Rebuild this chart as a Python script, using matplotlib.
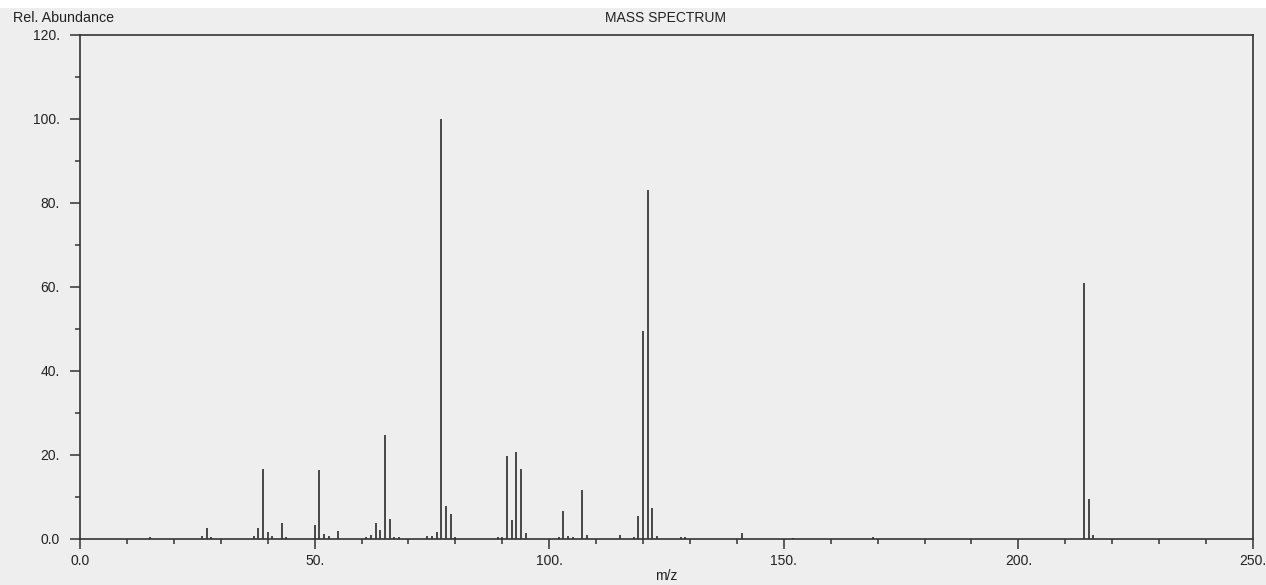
import matplotlib
matplotlib.use("Agg")
import matplotlib.pyplot as plt
from matplotlib.ticker import MultipleLocator, FuncFormatter

mz = [15, 26, 27, 28, 37, 38, 39, 40, 41, 43, 44,
      50, 51, 52, 53, 55, 61, 62, 63, 64, 65, 66, 67, 68,
      74, 75, 76, 77, 78, 79, 80,
      89, 90, 91, 92, 93, 94, 95,
      102, 103, 104, 105, 107, 108, 115, 118, 119, 120, 121, 122, 123,
      128, 129, 141, 152, 169, 214, 215, 216]
abundance = [0.3, 0.6, 2.5, 0.5, 0.6, 2.5, 16.6, 1.7, 0.6, 3.7, 0.4,
             3.2, 16.4, 1.1, 0.6, 1.8, 0.3, 0.9, 3.7, 2.0, 24.8, 4.6, 0.4, 0.4,
             0.6, 0.6, 1.5, 100.0, 7.9, 6.0, 0.5,
             0.3, 0.3, 19.6, 4.5, 20.7, 16.5, 1.3,
             0.3, 6.5, 0.6, 0.4, 11.5, 0.8, 0.9, 0.4, 5.5, 49.4, 83.1, 7.2, 0.6,
             0.3, 0.3, 1.3, 0.2, 0.5, 61.0, 9.4, 0.9]

title = "MASS SPECTRUM"
ylabel = "Rel. Abundance"
xlabel = "m/z"

bg = "#eeeeee"
fg = "#333333"
txt = "#222222"
plt.rcParams['font.family'] = ['Liberation Sans', 'DejaVu Sans']

W, H = 1266, 585
fig = plt.figure(figsize=(W / 100, H / 100), dpi=100, facecolor=bg)
# white strip at top
fig.patches.append(plt.Rectangle((0, 1 - 8 / H), 1, 8 / H, transform=fig.transFigure,
                                 facecolor="white", edgecolor="none", zorder=-1))

left, right = 80 / W, 1253 / W
top, bottom = 1 - 35 / H, 1 - 538.7 / H
ax = fig.add_axes([left, bottom, right - left, top - bottom])
ax.set_facecolor(bg)

ax.vlines(mz, 0, abundance, colors="#3a3a3a", linewidth=1.3)

ax.set_xlim(0, 250)
ax.set_ylim(0, 120)
ax.xaxis.set_major_locator(MultipleLocator(50))
ax.xaxis.set_minor_locator(MultipleLocator(10))
ax.yaxis.set_major_locator(MultipleLocator(20))
ax.yaxis.set_minor_locator(MultipleLocator(10))

def fmt(v, pos):
    return "0.0" if v == 0 else f"{int(round(v))}."

ax.xaxis.set_major_formatter(FuncFormatter(fmt))
ax.yaxis.set_major_formatter(FuncFormatter(fmt))

for s in ax.spines.values():
    s.set_color(fg)
    s.set_linewidth(1.2)

ax.tick_params(which="major", direction="out", length=7.2, width=1.1, color=fg,
               labelsize=10, labelcolor=txt)
ax.tick_params(which="minor", direction="out", length=3.6, width=1.1, color=fg)
ax.tick_params(axis="x", which="major", pad=4)
ax.tick_params(axis="y", which="major", pad=7.5)

fig.text(13 / W, 1 - 18 / H, ylabel, fontsize=10.3, color=txt, ha="left", va="center")
fig.text(605 / W, 1 - 18 / H, title, fontsize=10, color=txt, ha="left", va="center")
fig.text(666 / W, 1 - 583 / H, xlabel, fontsize=10, color=txt, ha="center", va="bottom")

fig.savefig("out.png", dpi=100, facecolor=bg)
